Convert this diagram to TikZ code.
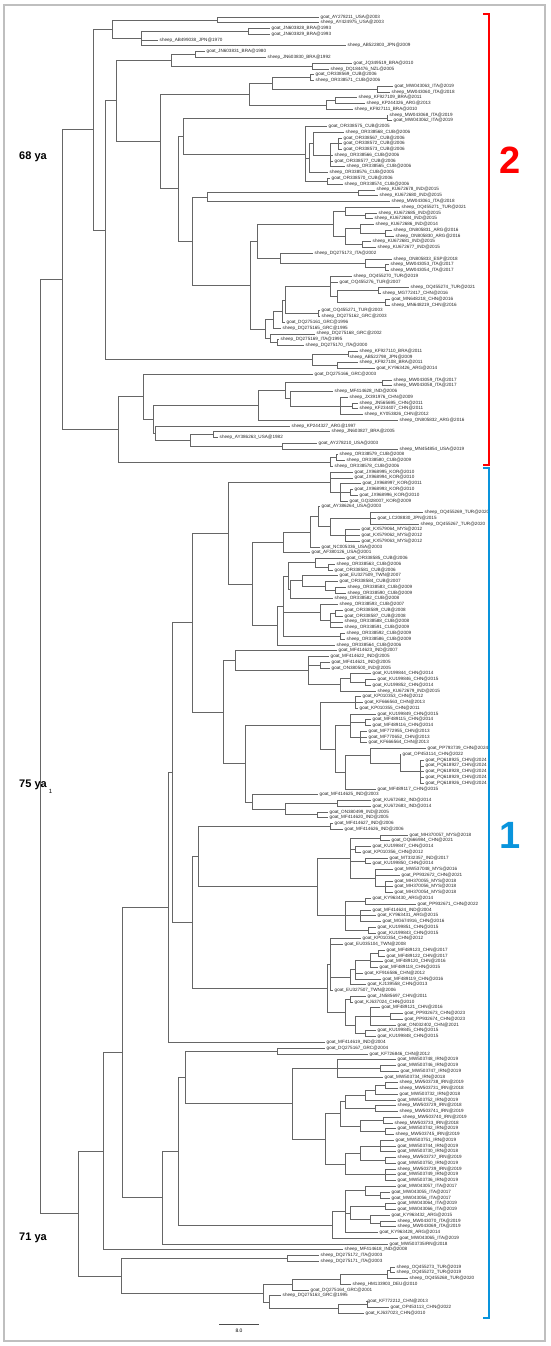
\documentclass[tikz,border=0pt]{standalone}
\usepackage{fontspec}
\setmainfont{Liberation Sans}
\usepackage{tikz}
\usetikzlibrary{calc}

% leaf: index, tip x, label
\newcommand\lf[3]{\node[lab] (l#1) at (#2,{11.24+5.76*#1}) {#3};}
% internal node: name, x, children
\newcommand\nd[3]{%
  \foreach \c [count=\k] in {#3}{\ifnum\k=1 \xdef\ndA{\c}\fi\xdef\ndB{\c}}%
  \path let \p1=(\ndA), \p2=(\ndB) in coordinate (#1) at (#2pt,{0.5*(\y1+\y2)});%
  \foreach \c in {#3}{\draw[br] (#1) |- (\c);}%
}

\begin{document}
\begin{tikzpicture}[x=1pt,y=-1pt]
    \tikzstyle{lab} = [anchor=west, inner xsep=1.5pt, inner ysep=0pt, font=\fontsize{4.6}{5}\selectfont, text=black!85]
    \tikzstyle{br} = [draw=black!60, line width=0.6pt]
    \tikzstyle{age} = [font=\fontsize{11}{13}\selectfont\bfseries]
    \useasboundingbox (0,0) rectangle (550,1346);
    \draw[black!25, line width=1.5pt] (4,5) rectangle (545,1341);

    % Leaves
    \lf{1}{319}{goat\_AY278211\_USA@2003}
    \lf{2}{319}{sheep\_AY424975\_USA@2003}
    \lf{3}{270}{goat\_JN603828\_BRA@1993}
    \lf{4}{270}{goat\_JN603829\_BRA@1993}
    \lf{5}{158}{sheep\_AB499038\_JPN@1970}
    \lf{6}{346}{sheep\_AB522803\_JPN@2009}
    \lf{7}{205}{goat\_JN603831\_BRA@1980}
    \lf{8}{266}{sheep\_JN603830\_BRA@1992}
    \lf{9}{352}{goat\_JQ349519\_BRA@2010}
    \lf{10}{329}{sheep\_DQ184476\_NZL@2005}
    \lf{11}{314}{goat\_OR338569\_CUB@2006}
    \lf{12}{314}{sheep\_OR338571\_CUB@2006}
    \lf{13}{393}{goat\_MW043063\_ITA@2019}
    \lf{14}{390}{sheep\_MW043060\_ITA@2018}
    \lf{15}{357}{sheep\_KF927109\_BRA@2011}
    \lf{16}{365}{sheep\_KP244326\_ARG@2013}
    \lf{17}{353}{sheep\_KF927111\_BRA@2010}
    \lf{18}{388}{sheep\_MW043068\_ITA@2019}
    \lf{19}{392}{goat\_MW043062\_ITA@2019}
    \lf{20}{327}{goat\_OR338575\_CUB@2005}
    \lf{21}{344}{sheep\_OR338568\_CUB@2006}
    \lf{22}{342}{goat\_OR338567\_CUB@2006}
    \lf{23}{342}{goat\_OR338572\_CUB@2006}
    \lf{24}{342}{goat\_OR338573\_CUB@2006}
    \lf{25}{333}{sheep\_OR338566\_CUB@2006}
    \lf{26}{333}{goat\_OR338577\_CUB@2006}
    \lf{27}{345}{sheep\_OR338565\_CUB@2006}
    \lf{28}{328}{sheep\_OR338576\_CUB@2005}
    \lf{29}{330}{goat\_OR338570\_CUB@2006}
    \lf{30}{343}{sheep\_OR338574\_CUB@2006}
    \lf{31}{375}{sheep\_KU672678\_IND@2015}
    \lf{32}{378}{sheep\_KU672680\_IND@2015}
    \lf{33}{390}{sheep\_MW043061\_ITA@2018}
    \lf{34}{400}{sheep\_OQ455271\_TUR@2021}
    \lf{35}{377}{sheep\_KU672685\_IND@2015}
    \lf{36}{373}{sheep\_KU672684\_IND@2015}
    \lf{37}{374}{sheep\_KU672686\_IND@2014}
    \lf{38}{392}{sheep\_ON805831\_ARG@2016}
    \lf{39}{394}{sheep\_ON805830\_ARG@2016}
    \lf{40}{371}{sheep\_KU672681\_IND@2015}
    \lf{41}{376}{sheep\_KU672677\_IND@2015}
    \lf{42}{313}{sheep\_DQ275173\_ITA@2002}
    \lf{43}{392}{sheep\_ON805833\_ESP@2018}
    \lf{44}{389}{sheep\_MW043053\_ITA@2017}
    \lf{45}{389}{sheep\_MW043054\_ITA@2017}
    \lf{46}{352}{sheep\_OQ455270\_TUR@2019}
    \lf{47}{338}{goat\_OQ455276\_TUR@2007}
    \lf{48}{409}{sheep\_OQ455274\_TUR@2021}
    \lf{49}{381}{sheep\_MG772417\_CHN@2016}
    \lf{50}{390}{goat\_MN648218\_CHN@2016}
    \lf{51}{390}{sheep\_MN648219\_CHN@2016}
    \lf{52}{320}{goat\_OQ455271\_TUR@2003}
    \lf{53}{320}{sheep\_DQ275162\_GRC@2003}
    \lf{54}{285}{goat\_DQ275161\_GRC@1996}
    \lf{55}{281}{sheep\_DQ275165\_GRC@1995}
    \lf{56}{315}{sheep\_DQ275168\_GRC@2002}
    \lf{57}{279}{sheep\_DQ275169\_ITA@1995}
    \lf{58}{304}{sheep\_DQ275170\_ITA@2000}
    \lf{59}{358}{sheep\_KF927110\_BRA@2011}
    \lf{60}{348}{sheep\_AB522798\_JPN@2009}
    \lf{61}{358}{sheep\_KF927108\_BRA@2011}
    \lf{62}{375}{goat\_KY963426\_ARG@2014}
    \lf{63}{313}{goat\_DQ275166\_GRC@2003}
    \lf{64}{392}{sheep\_MW043059\_ITA@2017}
    \lf{65}{392}{sheep\_MW043058\_ITA@2017}
    \lf{66}{333}{sheep\_MF414628\_IND@2006}
    \lf{67}{348}{sheep\_JX391976\_CHN@2009}
    \lf{68}{358}{sheep\_JN565695\_CHN@2011}
    \lf{69}{358}{sheep\_KF234407\_CHN@2011}
    \lf{70}{363}{sheep\_KY053826\_CHN@2012}
    \lf{71}{398}{sheep\_ON805832\_ARG@2016}
    \lf{72}{290}{sheep\_KP244327\_ARG@1997}
    \lf{73}{330}{sheep\_JN603827\_BRA@2005}
    \lf{74}{218}{sheep\_AY386263\_USA@1982}
    \lf{75}{317}{goat\_AY278210\_USA@2003}
    \lf{76}{398}{sheep\_MN454854\_USA@2019}
    \lf{77}{338}{sheep\_OR338579\_CUB@2008}
    \lf{78}{345}{sheep\_OR338580\_CUB@2009}
    \lf{79}{333}{sheep\_OR338578\_CUB@2006}
    \lf{80}{353}{goat\_JX968995\_KOR@2010}
    \lf{81}{353}{goat\_JX968994\_KOR@2010}
    \lf{82}{361}{goat\_JX968997\_KOR@2011}
    \lf{83}{353}{goat\_JX968993\_KOR@2010}
    \lf{84}{358}{goat\_JX968996\_KOR@2010}
    \lf{85}{348}{goat\_GQ328007\_KOR@2009}
    \lf{86}{320}{goat\_AY386264\_USA@2003}
    \lf{87}{423}{sheep\_OQ455269\_TUR@2020}
    \lf{88}{376}{goat\_LC208830\_JPN@2015}
    \lf{89}{419}{sheep\_OQ455267\_TUR@2020}
    \lf{90}{360}{goat\_KX579064\_MYS@2012}
    \lf{91}{360}{goat\_KX579062\_MYS@2012}
    \lf{92}{360}{goat\_KX579063\_MYS@2012}
    \lf{93}{320}{goat\_NC005336\_USA@2003}
    \lf{94}{310}{goat\_AF380126\_USA@2001}
    \lf{95}{345}{goat\_OR338585\_CUB@2006}
    \lf{96}{335}{sheep\_OR338563\_CUB@2006}
    \lf{97}{333}{goat\_OR338581\_CUB@2006}
    \lf{98}{338}{goat\_EU327509\_TWN@2007}
    \lf{99}{338}{goat\_OR338584\_CUB@2007}
    \lf{100}{346}{sheep\_OR338583\_CUB@2009}
    \lf{101}{346}{sheep\_OR338590\_CUB@2009}
    \lf{102}{333}{sheep\_OR338582\_CUB@2008}
    \lf{103}{338}{sheep\_OR338593\_CUB@2007}
    \lf{104}{343}{goat\_OR338589\_CUB@2008}
    \lf{105}{343}{goat\_OR338587\_CUB@2008}
    \lf{106}{343}{sheep\_OR338588\_CUB@2008}
    \lf{107}{343}{sheep\_OR338591\_CUB@2009}
    \lf{108}{345}{sheep\_OR338592\_CUB@2009}
    \lf{109}{345}{sheep\_OR338586\_CUB@2009}
    \lf{110}{335}{sheep\_OR338564\_CUB@2006}
    \lf{111}{337}{goat\_MF414623\_IND@2007}
    \lf{112}{329}{goat\_MF414622\_IND@2005}
    \lf{113}{330}{goat\_MF414621\_IND@2005}
    \lf{114}{330}{goat\_ON380500\_IND@2005}
    \lf{115}{371}{goat\_KU199844\_CHN@2014}
    \lf{116}{376}{goat\_KU199846\_CHN@2015}
    \lf{117}{371}{goat\_KU199852\_CHN@2014}
    \lf{118}{376}{sheep\_KU672679\_IND@2015}
    \lf{119}{361}{goat\_KP010353\_CHN@2012}
    \lf{120}{363}{goat\_KF666563\_CHN@2013}
    \lf{121}{358}{goat\_KP010355\_CHN@2011}
    \lf{122}{376}{goat\_KU199849\_CHN@2015}
    \lf{123}{371}{goat\_MF489115\_CHN@2014}
    \lf{124}{371}{goat\_MF489116\_CHN@2014}
    \lf{125}{367}{goat\_MF772955\_CHN@2013}
    \lf{126}{367}{goat\_MF770652\_CHN@2013}
    \lf{127}{367}{goat\_KF666564\_CHN@2013}
    \lf{128}{426}{goat\_PP793739\_CHN@2024}
    \lf{129}{401}{goat\_OP453114\_CHN@2022}
    \lf{130}{424}{goat\_PQ618925\_CHN@2024}
    \lf{131}{424}{goat\_PQ618927\_CHN@2024}
    \lf{132}{424}{goat\_PQ618928\_CHN@2024}
    \lf{133}{424}{goat\_PQ618929\_CHN@2024}
    \lf{134}{424}{goat\_PQ618926\_CHN@2024}
    \lf{135}{376}{goat\_MF489117\_CHN@2015}
    \lf{136}{318}{goat\_MF414625\_IND@2003}
    \lf{137}{371}{goat\_KU672682\_IND@2014}
    \lf{138}{371}{goat\_KU672683\_IND@2014}
    \lf{139}{328}{goat\_ON380499\_IND@2005}
    \lf{140}{328}{goat\_MF414620\_IND@2005}
    \lf{141}{333}{goat\_MF414627\_IND@2006}
    \lf{142}{343}{goat\_MF414626\_IND@2006}
    \lf{143}{408}{goat\_MH370057\_MYS@2018}
    \lf{144}{390}{goat\_OQ666984\_CHN@2021}
    \lf{145}{371}{goat\_KU199847\_CHN@2014}
    \lf{146}{361}{goat\_KP010356\_CHN@2012}
    \lf{147}{388}{goat\_MT332357\_IND@2017}
    \lf{148}{371}{goat\_KU199850\_CHN@2014}
    \lf{149}{393}{goat\_MW537048\_MYS@2016}
    \lf{150}{400}{goat\_PP932672\_CHN@2021}
    \lf{151}{393}{goat\_MH370055\_MYS@2018}
    \lf{152}{393}{goat\_MH370056\_MYS@2018}
    \lf{153}{393}{goat\_MH370054\_MYS@2018}
    \lf{154}{371}{goat\_KY963430\_ARG@2014}
    \lf{155}{416}{goat\_PP932671\_CHN@2022}
    \lf{156}{371}{goat\_MF414624\_IND@2004}
    \lf{157}{376}{goat\_KY963431\_ARG@2015}
    \lf{158}{381}{goat\_MG674916\_CHN@2016}
    \lf{159}{376}{goat\_KU199851\_CHN@2015}
    \lf{160}{376}{goat\_KU199843\_CHN@2015}
    \lf{161}{361}{goat\_KP010354\_CHN@2012}
    \lf{162}{343}{goat\_EU035104\_TWN@2008}
    \lf{163}{385}{goat\_MF489123\_CHN@2017}
    \lf{164}{385}{goat\_MF489122\_CHN@2017}
    \lf{165}{383}{goat\_MF489120\_CHN@2016}
    \lf{166}{378}{goat\_MF489118\_CHN@2015}
    \lf{167}{363}{goat\_KF916586\_CHN@2012}
    \lf{168}{381}{goat\_MF489119\_CHN@2016}
    \lf{169}{366}{goat\_KJ139558\_CHN@2013}
    \lf{170}{333}{goat\_EU327507\_TWN@2006}
    \lf{171}{366}{goat\_JN585697\_CHN@2011}
    \lf{172}{353}{goat\_KJ637024\_CHN@2010}
    \lf{173}{380}{goat\_MF489121\_CHN@2016}
    \lf{174}{403}{goat\_PP932673\_CHN@2023}
    \lf{175}{403}{goat\_PP932674\_CHN@2023}
    \lf{176}{396}{goat\_ON032402\_CHN@2021}
    \lf{177}{376}{goat\_KU199845\_CHN@2015}
    \lf{178}{376}{goat\_KU199848\_CHN@2015}
    \lf{179}{325}{goat\_MF414619\_IND@2004}
    \lf{180}{325}{goat\_DQ275167\_GRC@2004}
    \lf{181}{368}{goat\_KF726846\_CHN@2012}
    \lf{182}{396}{goat\_MW503748\_IRN@2019}
    \lf{183}{396}{goat\_MW503746\_IRN@2019}
    \lf{184}{399}{goat\_MW503747\_IRN@2019}
    \lf{185}{383}{goat\_MW503734\_IRN@2018}
    \lf{186}{398}{sheep\_MW503738\_IRN@2019}
    \lf{187}{398}{sheep\_MW503731\_IRN@2018}
    \lf{188}{398}{goat\_MW503732\_IRN@2018}
    \lf{189}{396}{goat\_MW503752\_IRN@2019}
    \lf{190}{396}{sheep\_MW503729\_IRN@2018}
    \lf{191}{398}{sheep\_MW503741\_IRN@2019}
    \lf{192}{401}{sheep\_MW503740\_IRN@2019}
    \lf{193}{393}{sheep\_MW503733\_IRN@2018}
    \lf{194}{396}{goat\_MW503742\_IRN@2019}
    \lf{195}{394}{sheep\_MW503745\_IRN@2019}
    \lf{196}{394}{goat\_MW503751\_IRN@2019}
    \lf{197}{396}{goat\_MW503744\_IRN@2019}
    \lf{198}{396}{goat\_MW503730\_IRN@2018}
    \lf{199}{396}{sheep\_MW503737\_IRN@2019}
    \lf{200}{396}{goat\_MW503750\_IRN@2019}
    \lf{201}{396}{sheep\_MW503739\_IRN@2019}
    \lf{202}{396}{goat\_MW503749\_IRN@2019}
    \lf{203}{396}{goat\_MW503736\_IRN@2019}
    \lf{204}{396}{goat\_MW043057\_ITA@2017}
    \lf{205}{390}{goat\_MW043055\_ITA@2017}
    \lf{206}{390}{goat\_MW043056\_ITA@2017}
    \lf{207}{396}{goat\_MW043064\_ITA@2019}
    \lf{208}{396}{goat\_MW043066\_ITA@2019}
    \lf{209}{390}{goat\_KY963432\_ARG@2015}
    \lf{210}{396}{sheep\_MW043070\_ITA@2019}
    \lf{211}{396}{sheep\_MW043069\_ITA@2019}
    \lf{212}{378}{goat\_KY963428\_ARG@2014}
    \lf{213}{398}{goat\_MW043065\_ITA@2019}
    \lf{214}{388}{goat\_MW503735IRN@2018}
    \lf{215}{343}{sheep\_MF414618\_IND@2008}
    \lf{216}{319}{sheep\_DQ275172\_ITA@2003}
    \lf{217}{319}{sheep\_DQ275171\_ITA@2003}
    \lf{218}{395}{sheep\_OQ455273\_TUR@2019}
    \lf{219}{395}{sheep\_OQ455272\_TUR@2019}
    \lf{220}{408}{sheep\_OQ455268\_TUR@2020}
    \lf{221}{351}{sheep\_HM133903\_DEU@2010}
    \lf{222}{309}{goat\_DQ275164\_GRC@2001}
    \lf{223}{281}{sheep\_DQ275163\_GRC@1995}
    \lf{224}{366}{goat\_KF772212\_CHN@2013}
    \lf{225}{389}{goat\_OP453113\_CHN@2022}
    \lf{226}{364}{goat\_KJ637023\_CHN@2010}

    % Clade 2
    \nd{n1}{217}{l1,l2}
    \nd{n2}{248}{l3,l4}
    \nd{n3}{141}{n2,l5,l6}
    \nd{n4}{112}{n1,n3}
    \nd{n5}{195}{l7,l8}
    \nd{n6}{312}{l9,l10}
    \nd{n7}{171}{n5,n6}
    \nd{n8}{310}{l11,l12}
    \nd{n9}{377}{l13,l14}
    \nd{n10}{272}{n8,n9}
    \nd{n11}{335}{l15,l16}
    \nd{n12}{326}{n11,l17}
    \nd{n13}{249}{n10,n12}
    \nd{n14}{387}{l18,l19}
    \nd{n15}{338}{l22,l23,l24}
    \nd{n16}{330}{n15,l25,l26,l27}
    \nd{n17}{313}{l21,n16}
    \nd{n18}{309}{n17,l28}
    \nd{n19}{327}{l29,l30}
    \nd{n20}{305}{l20,n18,n19}
    \nd{n21}{183}{n14,n20}
    \nd{n22}{358}{l31,l32}
    \nd{n23}{207}{n22,l33}
    \nd{n24}{365}{l35,l36}
    \nd{n25}{345}{l34,n24}
    \nd{n26}{385}{l38,l39}
    \nd{n27}{360}{l37,n26}
    \nd{n28}{362}{l40,l41}
    \nd{n29}{345}{n27,n28}
    \nd{n30}{333}{n25,n29}
    \nd{n31}{385}{l44,l45}
    \nd{n32}{365}{l43,n31}
    \nd{n33}{280}{l42,n32}
    \nd{n34}{257}{n30,n33}
    \nd{n35}{378}{l48,l49}
    \nd{n36}{385}{l50,l51}
    \nd{n37}{337}{n35,n36}
    \nd{n38}{330}{l46,l47,n37}
    \nd{n39}{318}{l52,l53}
    \nd{n40}{285}{n38,n39}
    \nd{n41}{282}{n40,l54}
    \nd{n42}{273}{n41,l55}
    \nd{n43}{277}{l57,l58}
    \nd{n44}{270}{l56,n43}
    \nd{n45}{265}{n42,n44}
    \nd{n46}{250}{n34,n45}
    \nd{n47}{192}{n23,n46}
    \nd{n48}{178}{n21,n47}
    \nd{n49}{160}{n13,n48}
    \nd{n50}{116}{n7,n49}
    \nd{n51}{348}{l59,l60}
    \nd{n52}{337}{l61,l62}
    \nd{n53}{312}{n51,n52}
    \nd{n54}{105}{n50,n53}
    \nd{n55}{93}{n4,n54}
    \nd{n56}{382}{l64,l65}
    \nd{n57}{352}{l68,l69}
    \nd{n58}{340}{l67,n57,l70}
    \nd{n59}{290}{l66,n58}
    \nd{n60}{285}{n56,n59}
    \nd{n61}{258}{n60,l71}
    \nd{n62}{213}{l73,l74}
    \nd{n63}{282}{l75,l76}
    \nd{n64}{190}{n62,n63}
    \nd{n65}{155}{l72,n64}
    \nd{n66}{153}{n61,n65}
    \nd{n67}{143}{l63,n66}
    \nd{n68}{336}{l77,l78}
    \nd{n69}{330}{n68,l79}
    \nd{n70}{118}{n67,n69}
    \nd{c2}{62}{n55,n70}

    % Clade 1
    \nd{n71}{350}{l83,l84}
    \nd{n72}{340}{l82,n71,l85}
    \nd{n73}{330}{l80,l81,n72}
    \nd{n74}{370}{l87,l88,l89}
    \nd{n75}{345}{l90,l91,l92}
    \nd{n76}{330}{n74,n75}
    \nd{n77}{318}{l86,n76}
    \nd{n78}{310}{n77,l93}
    \nd{n79}{283}{n78,l94}
    \nd{n80}{328}{l96,l97}
    \nd{n81}{315}{l95,n80}
    \nd{n82}{335}{l100,l101}
    \nd{n83}{325}{l99,n82}
    \nd{n84}{302}{l98,n83}
    \nd{n85}{290}{n84,l102}
    \nd{n86}{288}{n81,n85}
    \nd{n87}{335}{l104,l105}
    \nd{n88}{330}{n87,l106,l107}
    \nd{n89}{320}{l103,n88}
    \nd{n90}{340}{l108,l109}
    \nd{n91}{283}{n86,n89,n90}
    \nd{n92}{277}{n91,l110}
    \nd{n93}{252}{n79,n92}
    \nd{n94}{228}{n73,n93}
    \nd{n95}{320}{l113,l114}
    \nd{n96}{365}{l116,l117}
    \nd{n97}{350}{l115,n96}
    \nd{n98}{340}{n97,l118}
    \nd{n99}{308}{l112,n95,n98}
    \nd{n100}{235}{l111,n99}
    \nd{n101}{355}{l119,l120,l121}
    \nd{n102}{365}{l123,l124}
    \nd{n103}{360}{l125,l126,l127}
    \nd{n104}{350}{l122,n102,n103}
    \nd{n105}{420}{l130,l131,l132,l133,l134}
    \nd{n106}{400}{l129,n105}
    \nd{n107}{370}{l128,n106}
    \nd{n108}{345}{n107,l135}
    \nd{n109}{335}{n104,n108}
    \nd{n110}{320}{n101,n109}
    \nd{n111}{337}{l137,l138}
    \nd{n115}{317}{l139,l140}
    \nd{n111b}{285}{n111,n115}
    \nd{n112}{252}{l136,n111b}
    \nd{n113}{245}{n110,n112}
    \nd{n114}{223}{n100,n113}
    \nd{n116}{330}{l141,l142}
    \nd{n117}{380}{l143,l144}
    \nd{n118}{355}{l145,l146}
    \nd{n119}{365}{l147,l148}
    \nd{n120}{385}{l151,l152,l153}
    \nd{n121}{375}{l149,l150,n120}
    \nd{n122}{350}{n117,n118,n119,n121}
    \nd{n123}{365}{l154,l155}
    \nd{n124}{360}{l156,l157,l158}
    \nd{n125}{368}{l159,l160}
    \nd{n126}{345}{n123,n124,n125}
    \nd{n127}{317}{n122,n126}
    \nd{n128}{378}{l163,l164}
    \nd{n129}{370}{n128,l165,l166}
    \nd{n130}{355}{n129,l167,l168}
    \nd{n131}{350}{n130,l169}
    \nd{n132}{330}{l161,l162,n131,l170}
    \nd{n133}{350}{l171,l172}
    \nd{n134}{390}{l174,l175}
    \nd{n135}{370}{l173,n134,l176}
    \nd{n136}{365}{l177,l178}
    \nd{n137}{355}{n135,n136}
    \nd{n138}{345}{n133,n137}
    \nd{n139}{327}{n132,n138}
    \nd{n141}{198}{n116,n127}
    \nd{n142}{192}{n141,n139}
    \nd{n145}{277}{l180,l181}
    \nd{n146}{380}{l183,l184}
    \nd{n147}{337}{l182,n146,l185}
    \nd{n148}{385}{l186,l187}
    \nd{n149}{375}{n148,l188}
    \nd{n150}{365}{n149,l189}
    \nd{n151}{375}{l190,l191}
    \nd{n152}{345}{n150,n151}
    \nd{n153}{383}{l192,l193}
    \nd{n154}{385}{l194,l195}
    \nd{n155}{360}{n153,n154}
    \nd{n156}{340}{n152,n155}
    \nd{n157}{380}{l196,l197,l198}
    \nd{n158}{385}{l199,l200}
    \nd{n159}{360}{n157,n158}
    \nd{n160}{385}{l201,l202,l203}
    \nd{n161}{345}{n159,n160}
    \nd{n162}{325}{n156,n161}
    \nd{n163}{292}{n147,n162}
    \nd{n164}{380}{l205,l206}
    \nd{n165}{365}{l204,n164}
    \nd{n166}{385}{l207,l208}
    \nd{n167}{380}{l210,l211}
    \nd{n168}{370}{l209,n167}
    \nd{n169}{350}{n166,n168}
    \nd{n170}{345}{n165,n169,l212}
    \nd{n171}{332}{n170,l213}
    \nd{n172}{185}{n145,n163}
    \nd{n173}{178}{n172,n171}
    \nd{n174}{162}{n173,l214}
    \nd{n175}{192}{n94,n114}
    \nd{n176}{172}{n175,n142}
    \nd{n177}{168}{n176,l179}
    \nd{n178}{122}{n177,n174}
    \nd{n179}{103}{n178,l215}
    \nd{b1}{287}{l216,l217}
    \nd{b2}{390}{l218,l219}
    \nd{b3}{387}{b2,l220}
    \nd{b4}{340}{b3,l221}
    \nd{b5}{292}{b4,l222}
    \nd{b6}{367}{l224,l225}
    \nd{b7}{338}{b6,l226}
    \nd{b8}{269}{l223,b7}
    \nd{b9}{263}{b5,b8}
    \nd{b10}{121}{b1,b9}
    \nd{c1}{78}{n179,b10}
    \nd{root}{40}{c2,c1}

    % Ages and support
    \node[age] (a68) at (33,157) {68 ya};
    \node[age] (a75) at (33,785) {75 ya};
    \node[age] (a71) at (33,1238) {71 ya};
    \node[font=\fontsize{6}{7}\selectfont, inner sep=0.5pt] (sup) at (50.5,791) {1};

    % Clade brackets
    \draw[red, line width=1.8pt] (483,14) -- (489,14) -- (489,465) -- (483,465);
    \node[red, font=\fontsize{38}{40}\selectfont\bfseries] (cl2) at (510,160) {2};
    \draw[cyan!80!blue, line width=1.8pt] (483,468) -- (489,468) -- (489,1318) -- (483,1318);
    \node[cyan!80!blue, font=\fontsize{38}{40}\selectfont\bfseries] (cl1) at (510,835) {1};

    % Scale bar
    \draw[black!70, line width=0.8pt] (219,1324) -- (259,1324);
    \node[font=\fontsize{5}{6}\selectfont] (sc) at (239,1331) {8.0};
\end{tikzpicture}
\end{document}
